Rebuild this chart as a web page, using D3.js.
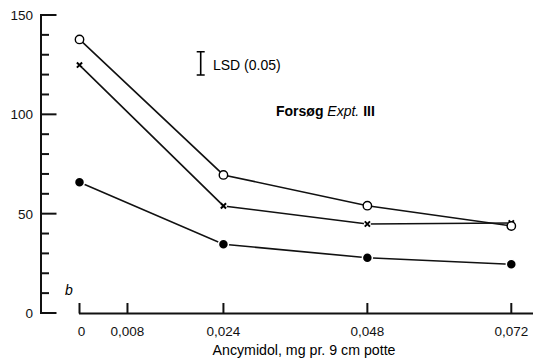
<!DOCTYPE html>
<meta charset="utf-8">
<style>
  body { margin: 0; background: #fff; }
  svg { display: block; font-family: "Liberation Sans", Arial, sans-serif; }
  .line { fill: none; stroke: #111; stroke-width: 1.6; }
  .axis-line { stroke: #111; stroke-width: 2; fill: none; }
  .tick-label { font-size: 13.5px; fill: #111; }
</style>
<body>
<script src="https://d3js.org/d3.v7.min.js"></script>
<script>

// doses (mg pr. 9 cm potte)
var doses = [0, 0.024, 0.048, 0.072];
var openCircle = [137.7, 69.5, 54, 43.8];
var crossMark = [124.8, 53.9, 44.8, 45.3];
var filledCircle = [65.8, 34.6, 27.8, 24.5];

var xTicks = [0, 0.008, 0.024, 0.048, 0.072];
var xTickLabels = ["0", "0,008", "0,024", "0,048", "0,072"];
var yMajor = [0, 50, 100, 150];
var yMinor = [10, 20, 30, 40, 60, 70, 80, 90, 110, 120, 130, 140];

var lsd = 11.7;        // LSD (0.05) length
var lsdTop = 131.5;

var W = 537, H = 358;

var x = d3.scaleLinear().domain([0, 0.072]).range([79.5, 511.3]);
var y = d3.scaleLinear().domain([0, 150]).range([313, 15]);

var svg = d3.select("body").append("svg")
  .attr("width", W)
  .attr("height", H);

// y axis: vertical line with ticks pointing inward
var yAxisX = 41;
svg.append("line").attr("class", "axis-line")
  .attr("x1", yAxisX).attr("x2", yAxisX)
  .attr("y1", y(150) - 1).attr("y2", y(0) + 1);

svg.selectAll(".ymaj").data(yMajor).enter().append("line")
  .attr("class", "axis-line")
  .attr("x1", yAxisX).attr("x2", yAxisX + 15.5)
  .attr("y1", function(d) { return y(d); })
  .attr("y2", function(d) { return y(d); });

svg.selectAll(".ymin").data(yMinor).enter().append("line")
  .attr("class", "axis-line")
  .attr("x1", yAxisX).attr("x2", yAxisX + 8)
  .attr("y1", function(d) { return y(d); })
  .attr("y2", function(d) { return y(d); });

svg.selectAll(".ylab").data(yMajor).enter().append("text")
  .attr("class", "tick-label")
  .attr("x", 33)
  .attr("y", function(d) { return y(d) + 5; })
  .attr("text-anchor", "end")
  .text(function(d) { return d; });

// x axis: separate baseline with upward ticks
svg.append("line").attr("class", "axis-line")
  .attr("x1", x(0) - 0.5).attr("x2", 533)
  .attr("y1", 313.5).attr("y2", 313.5);

svg.selectAll(".xt").data(xTicks).enter().append("line")
  .attr("class", "axis-line")
  .attr("x1", function(d) { return x(d); })
  .attr("x2", function(d) { return x(d); })
  .attr("y1", 313.5).attr("y2", 303);

svg.selectAll(".xlab").data(xTicks).enter().append("text")
  .attr("class", "tick-label")
  .attr("x", function(d, i) { return x(d) + (i == 0 ? 2 : 0); })
  .attr("y", 336)
  .attr("text-anchor", "middle")
  .text(function(d, i) { return xTickLabels[i]; });

svg.append("text")
  .attr("x", 304).attr("y", 355)
  .attr("text-anchor", "middle")
  .style("font-size", "14.2px")
  .text("Ancymidol, mg pr. 9 cm potte");

svg.append("text")
  .attr("x", 69).attr("y", 295)
  .attr("text-anchor", "middle")
  .style("font-size", "14px")
  .style("font-style", "italic")
  .text("b");

// series
var line = d3.line()
  .x(function(d) { return x(d[0]); })
  .y(function(d) { return y(d[1]); });

function pairs(vals) { return doses.map(function(d, i) { return [d, vals[i]]; }); }

[openCircle, crossMark, filledCircle].forEach(function(s) {
  svg.append("path").attr("class", "line").attr("d", line(pairs(s)));
});

svg.selectAll(".fc").data(pairs(filledCircle)).enter().append("circle")
  .attr("cx", function(d) { return x(d[0]); })
  .attr("cy", function(d) { return y(d[1]); })
  .attr("r", 5).attr("fill", "#000")
  .attr("stroke", "#fff").attr("stroke-width", 1.5);

svg.selectAll(".cm").data(pairs(crossMark)).enter().append("g")
  .attr("transform", function(d) { return "translate(" + x(d[0]) + "," + y(d[1]) + ")"; })
  .each(function() {
    var g = d3.select(this);
    g.append("circle").attr("r", 3.5).attr("fill", "#fff");
    g.append("path").attr("d", "M-2.6,-2.6L2.6,2.6M-2.6,2.6L2.6,-2.6")
      .attr("stroke", "#000").attr("stroke-width", 2);
  });

svg.selectAll(".oc").data(pairs(openCircle)).enter().append("circle")
  .attr("cx", function(d) { return x(d[0]); })
  .attr("cy", function(d) { return y(d[1]); })
  .attr("r", 4.2).attr("fill", "#fff")
  .attr("stroke", "#000").attr("stroke-width", 1.4);

// LSD bar
var lsdX = 200.7;
svg.append("path")
  .attr("d", "M" + (lsdX - 4) + "," + y(lsdTop) + "H" + (lsdX + 4) +
             "M" + lsdX + "," + y(lsdTop) + "V" + y(lsdTop - lsd) +
             "M" + (lsdX - 4) + "," + y(lsdTop - lsd) + "H" + (lsdX + 4))
  .attr("stroke", "#000").attr("stroke-width", 1.6).attr("fill", "none");

svg.append("text")
  .attr("x", 213).attr("y", 69.5)
  .style("font-size", "14px")
  .text("LSD (0.05)");

var t = svg.append("text")
  .attr("x", 276).attr("y", 116)
  .style("font-size", "14px");
t.append("tspan").style("font-weight", "bold").text("Forsøg ");
t.append("tspan").style("font-style", "italic").text("Expt.");
t.append("tspan").style("font-weight", "bold").text(" III");

</script>
</body>
